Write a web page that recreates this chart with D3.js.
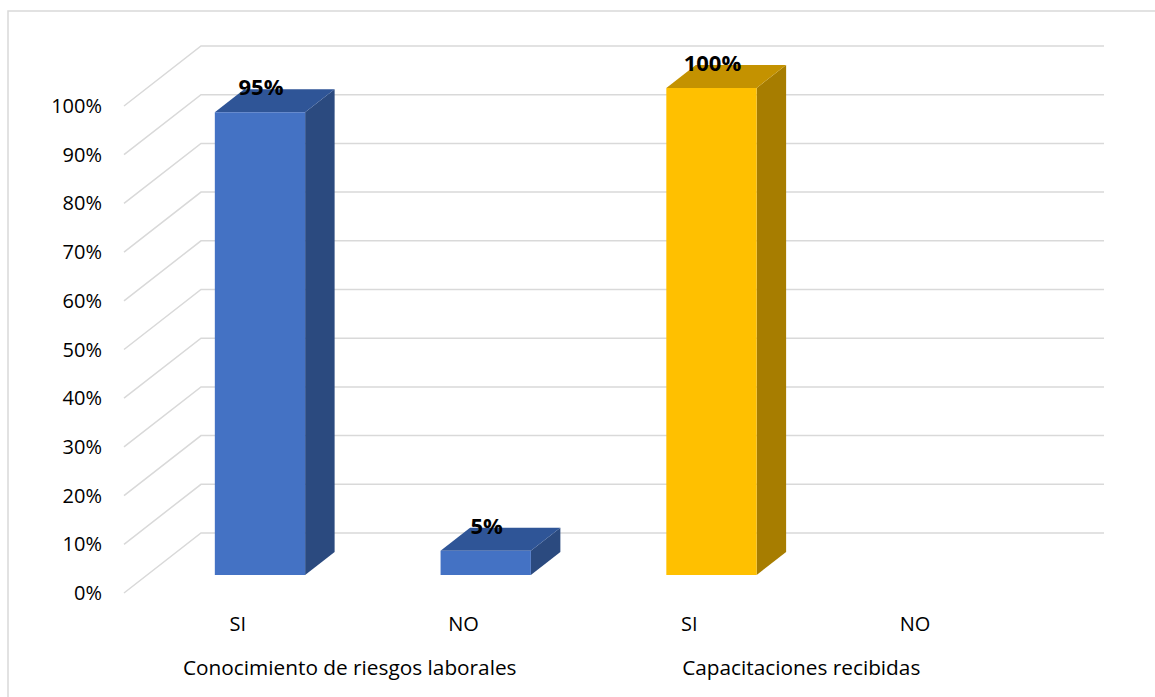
<!DOCTYPE html>
<html>
<head>
    <script src="https://d3js.org/d3.v7.min.js"></script>
    <style>
        body { margin: 0; background: #fff; }
        text { font-family: "Open Sans", "Noto Sans", sans-serif; fill: #000; }
    </style>
</head>
<body>

<script>
// chart data
const groups = ['Conocimiento de riesgos laborales', 'Capacitaciones recibidas'];
const answers = ['SI', 'NO'];
const conocimiento = [0.95, 0.05];
const capacitaciones = [1.00, 0.00];
const yTicks = [0, 0.1, 0.2, 0.3, 0.4, 0.5, 0.6, 0.7, 0.8, 0.9, 1.0];

const seriesValues = [conocimiento, capacitaciones];

const rows = [];
groups.forEach((g, gi) => {
    answers.forEach((a, ai) => {
        rows.push({ key: g + '|' + a, group: g, gi: gi, answer: a, value: seriesValues[gi][ai] });
    });
});

const width = 1155, height = 697;

const svg = d3.select('body')
    .append('svg')
    .attr('width', width)
    .attr('height', height);

// outer frame (top and left edges visible)
svg.append('path')
    .attr('d', 'M8,697 L8,11 L1155,11')
    .attr('fill', 'none')
    .attr('stroke', '#d9d9d9')
    .attr('stroke-width', 1.5);

// 3D projection: front plane scales + depth vector
const depthX = 77, depthY = -60;
const barFront = 0.3, barBack = 0.683;

const xScale = d3.scaleBand()
    .domain(rows.map(d => d.key))
    .range([124, 1027])
    .padding(0);

const yScale = d3.scaleLinear()
    .domain([0, 1])
    .range([593, 106]);

const pt = (x, v, depth) => [x + depthX * depth, yScale(v) + depthY * depth];

// gridlines: left wall diagonals + back wall
const grid = svg.append('g')
    .attr('stroke', '#d9d9d9')
    .attr('stroke-width', 1.5)
    .attr('fill', 'none');

const x0 = xScale.range()[0], x1 = xScale.range()[1];
yTicks.forEach(t => {
    const a = pt(x0, t, 0), b = pt(x0, t, 1), c = pt(x1, t, 1);
    grid.append('path')
        .attr('d', `M${a[0]},${a[1]} L${b[0]},${b[1]} L${c[0]},${c[1]}`);
});

// y-axis labels
const fmt = d3.format('.0%');
svg.append('g')
    .selectAll('text')
    .data(yTicks)
    .enter()
    .append('text')
    .attr('x', 102)
    .attr('y', d => yScale(d) + 7)
    .attr('text-anchor', 'end')
    .attr('font-size', 20)
    .text(d => fmt(d));

// bar colors per group: [front, top, side]
const colors = [
    ['#4472c4', '#2f5597', '#2b4a7f'],
    ['#ffc000', '#c49200', '#a77d00']
];

const bw = xScale.bandwidth() * 0.4;
const bars = svg.append('g')
    .selectAll('g')
    .data(rows.filter(d => d.value > 0))
    .enter()
    .append('g');

const poly = pts => 'M' + pts.map(p => p.join(',')).join(' L') + ' Z';

bars.each(function(d) {
    const g = d3.select(this);
    const cx = xScale(d.key) + xScale.bandwidth() / 2;
    const l = cx - bw / 2, r = cx + bw / 2;
    const c = colors[d.gi];
    // side face
    g.append('path')
        .attr('d', poly([pt(r, 0, barFront), pt(r, 0, barBack), pt(r, d.value, barBack), pt(r, d.value, barFront)]))
        .attr('fill', c[2]);
    // top face
    g.append('path')
        .attr('d', poly([pt(l, d.value, barFront), pt(l, d.value, barBack), pt(r, d.value, barBack), pt(r, d.value, barFront)]))
        .attr('fill', c[1]);
    // front face
    g.append('path')
        .attr('d', poly([pt(l, 0, barFront), pt(l, d.value, barFront), pt(r, d.value, barFront), pt(r, 0, barFront)]))
        .attr('fill', c[0]);
    // value label
    const top = pt(cx, d.value, barFront);
    g.append('text')
        .attr('x', top[0] + 1)
        .attr('y', top[1] - 17)
        .attr('text-anchor', 'middle')
        .attr('font-size', 22)
        .attr('font-weight', 'bold')
        .text(fmt(d.value));
});

// category labels
svg.append('g')
    .selectAll('text')
    .data(rows)
    .enter()
    .append('text')
    .attr('x', d => xScale(d.key) + xScale.bandwidth() / 2 + 1)
    .attr('y', 631)
    .attr('text-anchor', 'middle')
    .attr('font-size', 20)
    .text(d => d.answer);

// group labels
svg.append('g')
    .selectAll('text')
    .data(groups)
    .enter()
    .append('text')
    .attr('x', g => {
        const keys = answers.map(a => g + '|' + a);
        return (xScale(keys[0]) + xScale(keys[keys.length - 1]) + xScale.bandwidth()) / 2;
    })
    .attr('y', 675)
    .attr('text-anchor', 'middle')
    .attr('font-size', 20.8)
    .text(g => g);
</script>

</body>
</html>
